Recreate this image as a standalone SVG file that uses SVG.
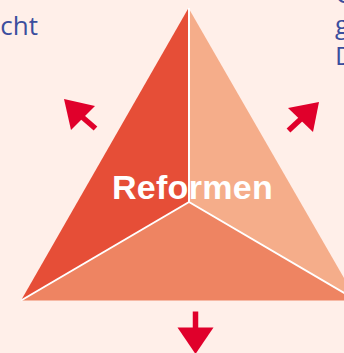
<svg xmlns="http://www.w3.org/2000/svg" width="344" height="353" viewBox="0 0 344 353">
<style>
.bg{fill:#FFEFE9}
.sep{stroke:#FFFFFF;stroke-width:2;fill:none}
.arrow{fill:#E0002B}
.shaft{stroke:#E0002B;stroke-width:5.5;fill:none}
.blue{font-family:"Open Sans","Liberation Sans",sans-serif;font-size:26px;fill:#3B4E9E}
.title{font-family:"Liberation Sans",Arial,sans-serif;font-weight:bold;font-size:34px;fill:#FFFFFF;letter-spacing:0.3px}
</style>
<rect class="bg" x="0" y="0" width="344" height="353"/>
<g id="text-left"><text class="blue" x="38" y="35" text-anchor="end">echt</text></g>
<g id="text-right">
<text class="blue" x="335" y="3">G</text>
<text class="blue" x="335" y="34">g</text>
<text class="blue" x="335" y="65">D</text>
</g>
<g id="section-left"><polygon points="188.5,8 189,202 21,300.5" fill="#E64E37"/></g>
<g id="section-right"><polygon points="188.5,8 357,300.5 189,202" fill="#F5AD8A"/></g>
<g id="section-bottom"><polygon points="21,300.5 189,202 357,300.5" fill="#EE8462"/></g>
<g id="separators">
<line class="sep" x1="189" y1="8" x2="189" y2="202"/>
<line class="sep" x1="189" y1="202" x2="21" y2="300.5"/>
<line class="sep" x1="189" y1="202" x2="357" y2="300.5"/>
</g>
<g id="label"><text class="title" x="192.5" y="199" text-anchor="middle">Reformen</text></g>
<g id="connectors">
<polygon class="arrow" points="64,99 95,106 71,130"/>
<line class="shaft" x1="81" y1="116" x2="95.5" y2="128.5"/>
<polygon class="arrow" points="319,102 288,108 313,132"/>
<line class="shaft" x1="302" y1="118" x2="288.5" y2="130.5"/>
<polygon class="arrow" points="177.5,327.5 213.5,327.5 195.5,354"/>
<line class="shaft" x1="195.5" y1="311.5" x2="195.5" y2="330"/>
</g>
</svg>
